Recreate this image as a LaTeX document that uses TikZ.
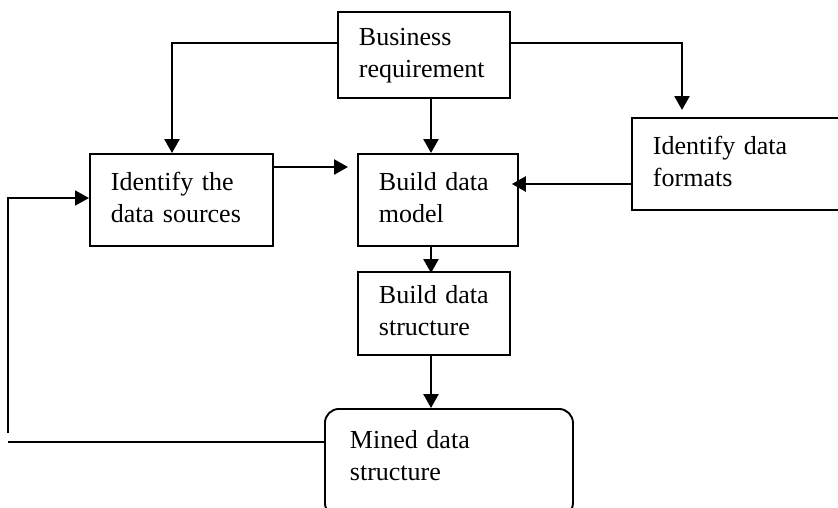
\documentclass[tikz,border=0pt]{standalone}
\usepackage{fontspec}
\setmainfont{Liberation Serif}
\usetikzlibrary{arrows.meta}
\newcommand{\twoline}[2]{\strut #1\\\strut #2}
\begin{document}
\begin{tikzpicture}[x=1pt,y=-1pt,
  box/.style={draw, line width=1.9pt, rectangle, anchor=north west, align=left,
    inner ysep=0pt, inner xsep=21pt, font=\fontsize{26}{32}\selectfont},
  tipshape/.style={-{Triangle[length=14pt,width=15pt]}},
  arr/.style={line width=2.6pt, tipshape},
  plain/.style={line width=1.8pt}]
\useasboundingbox (0,0) rectangle (838,507);
\begin{scope}
\clip (0,0) rectangle (838,507);
\node[box, text width=130pt, minimum height=86pt] (br) at (337,11) {\twoline{Business}{requirement}};
\node[box, text width=141pt, minimum height=92pt] (ids) at (89,153) {\twoline{Identify the}{data sources}};
\node[box, text width=118pt, minimum height=92pt] (bdm) at (357,153) {\twoline{Build data}{model}};
\node[box, text width=178pt, minimum height=92pt] (idf) at (631,117) {\twoline{Identify data}{formats}};
\node[box, text width=110pt, minimum height=83pt] (bds) at (357,271) {\twoline{Build data}{structure}};
\node[box, rounded corners=14pt, inner xsep=25pt, text width=198pt, minimum height=108pt] (mds) at (324,408) {\strut Mined data\\\strut structure\rule[-19.6pt]{0pt}{19.6pt}};

\coordinate (cx) at (431,0);
\coordinate (pl) at ([yshift=-32pt]br.north west);
\coordinate (pr) at ([yshift=-32pt]br.north east);
\coordinate (p4) at ([yshift=-14pt]ids.north east);
\coordinate (p5) at ([yshift=-67pt]idf.north west);
\coordinate (pm) at ([yshift=-34pt]mds.north west);
\coordinate (fb1) at (8,442);
\coordinate (fb2) at (8,433);
\coordinate (fb3) at (8,198);

\draw[arr] (pl) -| ([xshift=83pt]ids.north west);
\draw[arr] (br.south -| cx) -- (bdm.north -| cx);
\draw[arr, shorten >=7pt] (pr) -| ([xshift=51pt]idf.north west);
\draw[arr, shorten >=9pt] (p4) -- (p4 -| bdm.west);
\draw[arr, shorten >=-7pt] (p5) -- (p5 -| bdm.east);
\draw[arr, shorten >=-2pt] (bdm.south -| cx) -- (bds.north -| cx);
\draw[arr] (bds.south -| cx) -- (mds.north -| cx);
\draw[plain] (pm) -- (fb1);
\draw[plain, tipshape] (fb2) -- (fb3) -- (fb3 -| ids.west);
\end{scope}
\end{tikzpicture}
\end{document}
